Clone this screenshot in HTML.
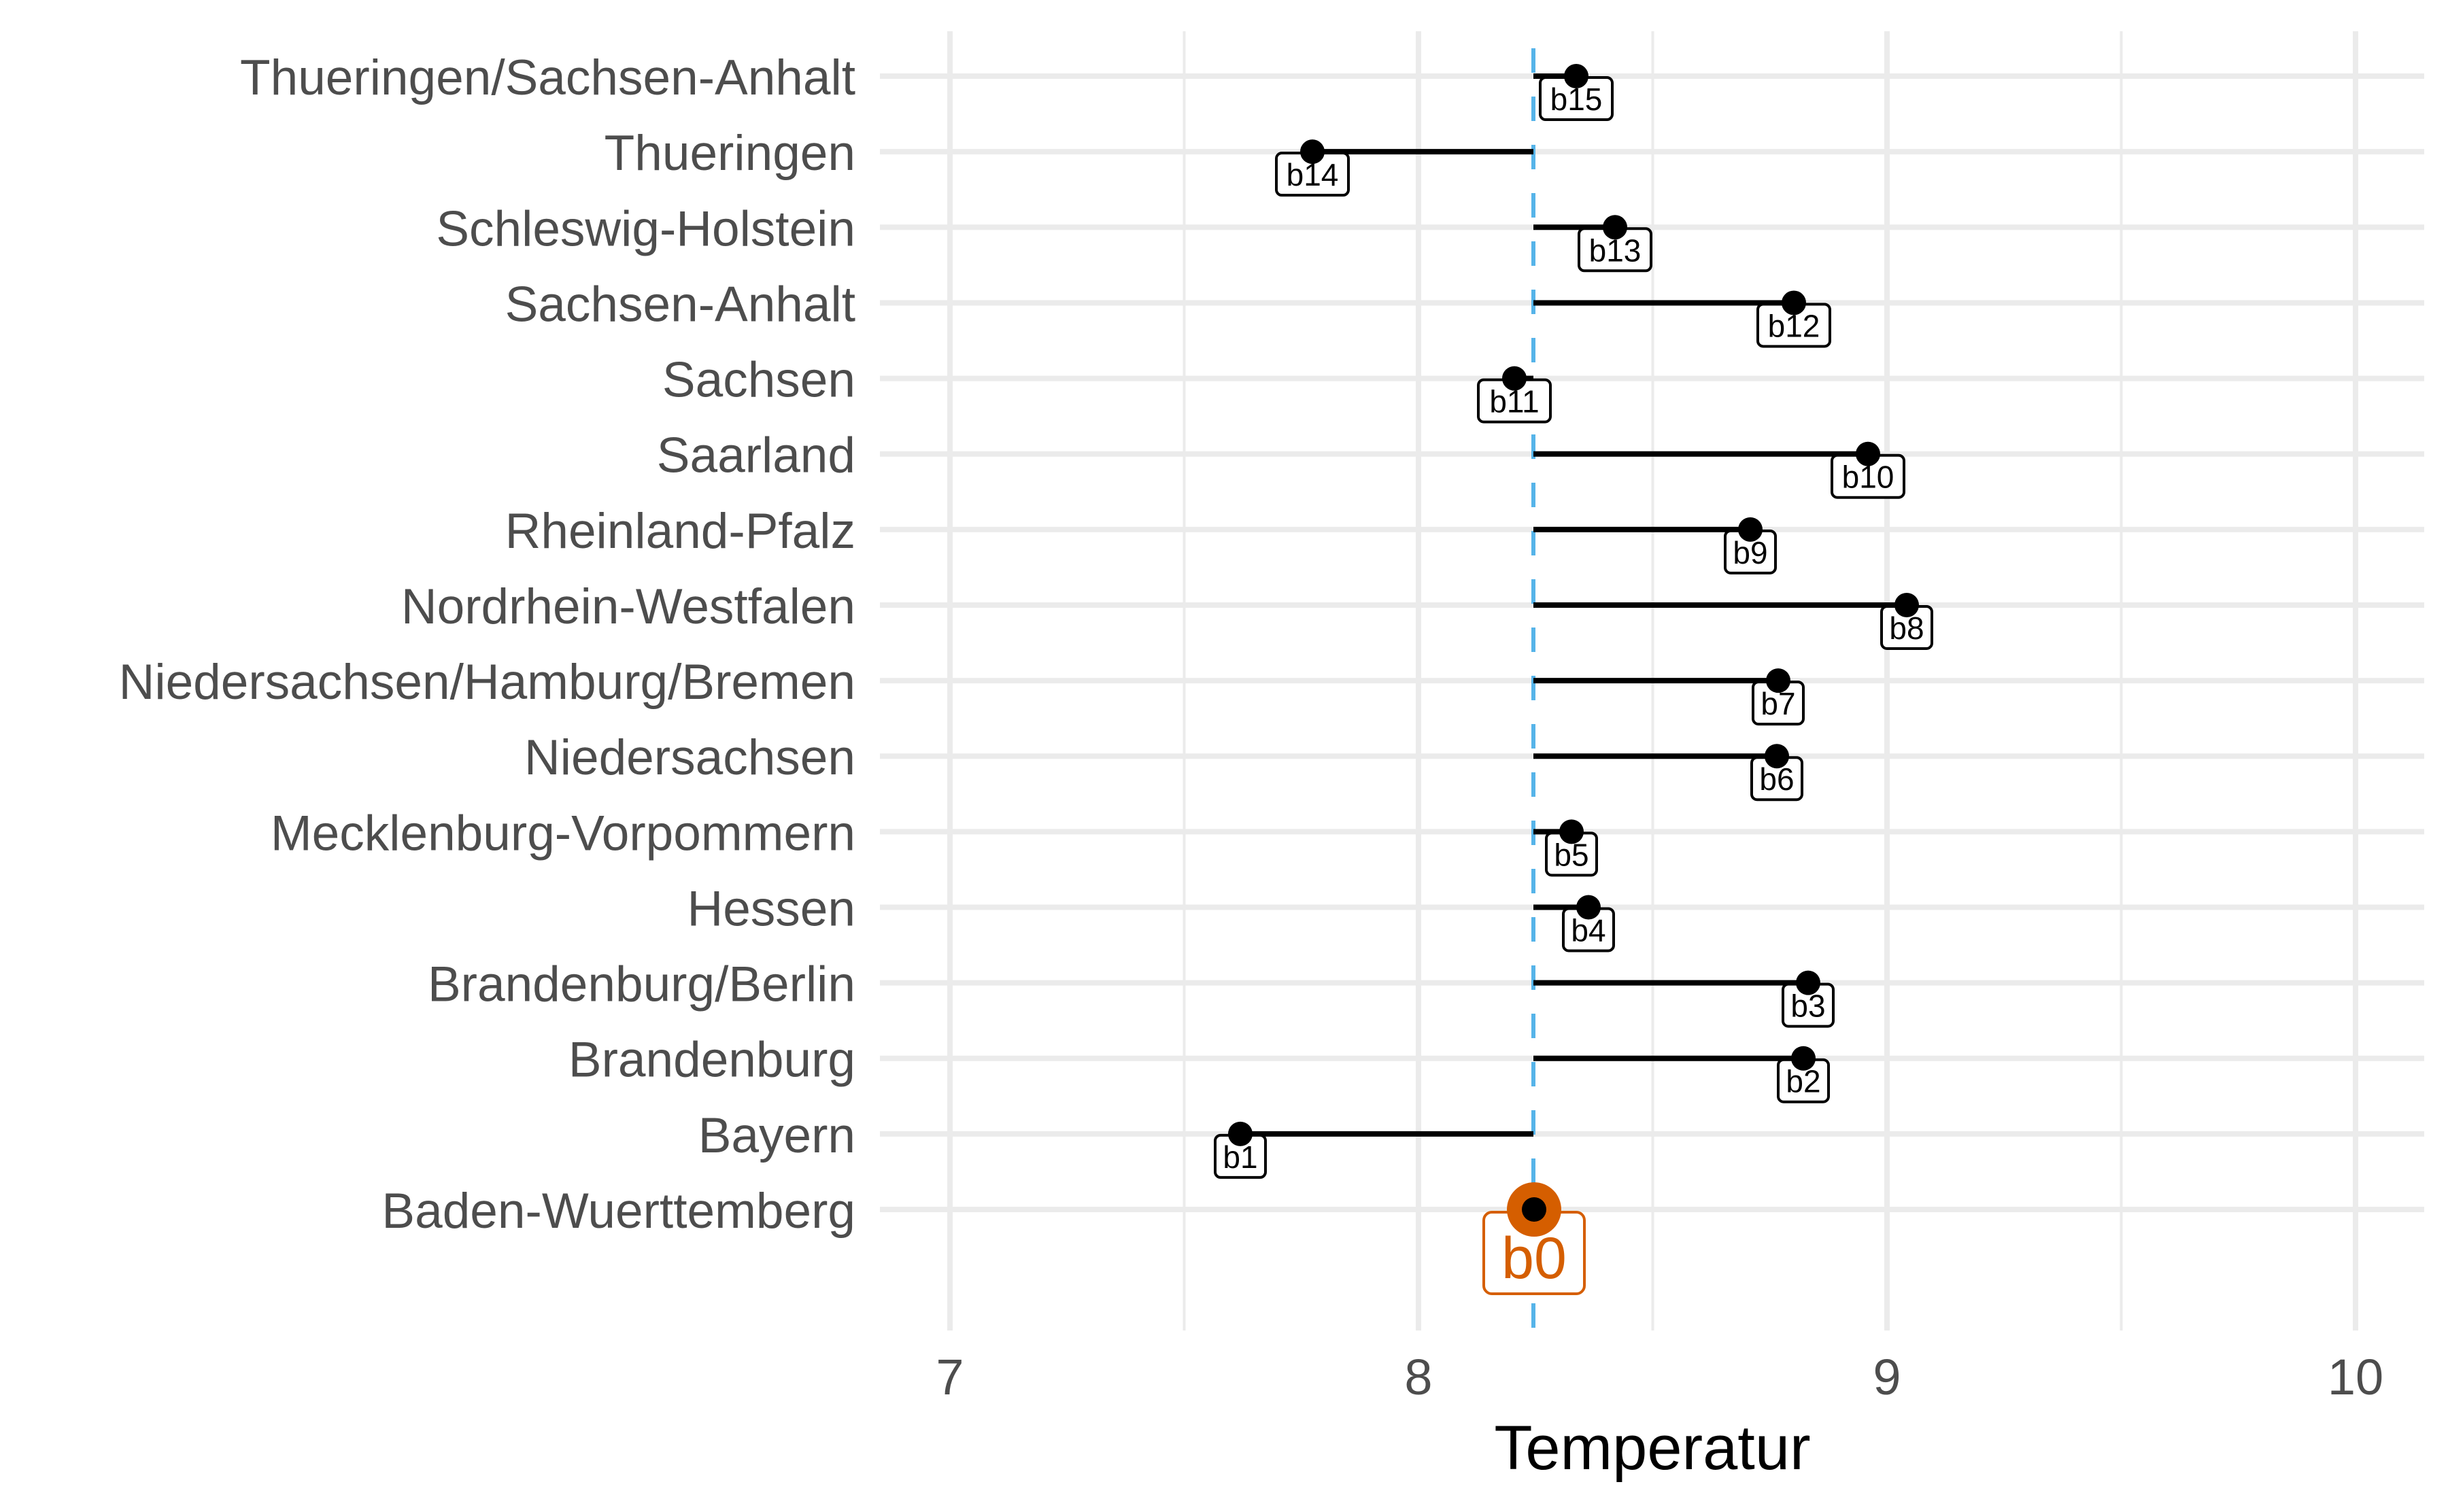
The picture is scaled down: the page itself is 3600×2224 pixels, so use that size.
<!DOCTYPE html>
<html><head><meta charset="utf-8"><style>html,body{margin:0;padding:0;background:#fff}svg{display:block}</style></head>
<body>
<svg xmlns="http://www.w3.org/2000/svg" width="3600" height="2224" viewBox="0 0 3600 2224">
<rect width="3600" height="2224" fill="#fff"/>
<g stroke="#ebebeb">
<line x1="1741.5" y1="46" x2="1741.5" y2="1957" stroke-width="4"/>
<line x1="2430.5" y1="46" x2="2430.5" y2="1957" stroke-width="4"/>
<line x1="3119.5" y1="46" x2="3119.5" y2="1957" stroke-width="4"/>
<line x1="1397" y1="46" x2="1397" y2="1957" stroke-width="8"/>
<line x1="2086" y1="46" x2="2086" y2="1957" stroke-width="8"/>
<line x1="2775" y1="46" x2="2775" y2="1957" stroke-width="8"/>
<line x1="3464" y1="46" x2="3464" y2="1957" stroke-width="8"/>
</g>
<g id="rows" stroke="#ebebeb" stroke-width="8"></g>
<line x1="2255" y1="71" x2="2255" y2="1957" stroke="#56B4E9" stroke-width="6" stroke-dasharray="36 35"/>
<g id="segs" stroke="#000" stroke-width="8"></g>
<g id="labels"></g>
<g id="ylab" font-family="Liberation Sans, sans-serif" font-size="73" fill="#4d4d4d" text-anchor="end"></g>
<g font-family="Liberation Sans, sans-serif" font-size="74" fill="#4d4d4d" text-anchor="middle">
<text x="1397" y="2051">7</text><text x="2086" y="2051">8</text><text x="2775" y="2051">9</text><text x="3464" y="2051">10</text>
</g>
<text x="2430" y="2161" font-family="Liberation Sans, sans-serif" font-size="92" fill="#000" text-anchor="middle">Temperatur</text>
<rect x="2182" y="1783" width="148" height="120" rx="12" fill="#fff" stroke="#D55E00" stroke-width="4"/>
<text x="2256" y="1880" font-family="Liberation Sans, sans-serif" font-size="86" fill="#D55E00" text-anchor="middle">b0</text>
<circle cx="2256" cy="1779" r="40" fill="#D55E00"/>
<circle cx="2256" cy="1779" r="18" fill="#000"/>
<script>
var names=["Baden-Wuerttemberg","Bayern","Brandenburg","Brandenburg/Berlin","Hessen","Mecklenburg-Vorpommern","Niedersachsen","Niedersachsen/Hamburg/Bremen","Nordrhein-Westfalen","Rheinland-Pfalz","Saarland","Sachsen","Sachsen-Anhalt","Schleswig-Holstein","Thueringen","Thueringen/Sachsen-Anhalt"];
var xs=[null,1824,2652,2659,2336,2311,2613,2615,2804,2574,2747,2227,2638,2375,1930,2318];
var NS="http://www.w3.org/2000/svg";
function el(t,a,p){var e=document.createElementNS(NS,t);for(var k in a)e.setAttribute(k,a[k]);p.appendChild(e);return e;}
var rows=document.getElementById("rows"),segs=document.getElementById("segs"),labs=document.getElementById("labels"),yl=document.getElementById("ylab");
for(var i=0;i<16;i++){var y=1779-i*111.13;
el("line",{x1:1294,x2:3565,y1:y,y2:y},rows);
var t=el("text",{x:1258,y:y+27},yl);t.textContent=names[i];
if(i>0){var x=xs[i];
el("line",{x1:2255,x2:x,y1:y,y2:y},segs);
var w=i>=10?106:74;
el("rect",{x:x-w/2,y:y+2,width:w,height:62,rx:8,fill:"#fff",stroke:"#000","stroke-width":4},labs);
var tt=el("text",{x:x,y:y+50,"font-family":"Liberation Sans, sans-serif","font-size":46,"text-anchor":"middle",fill:"#000"},labs);tt.textContent="b"+i;
el("circle",{cx:x,cy:y,r:18,fill:"#000"},labs);}}
</script>
</svg>
</body></html>
